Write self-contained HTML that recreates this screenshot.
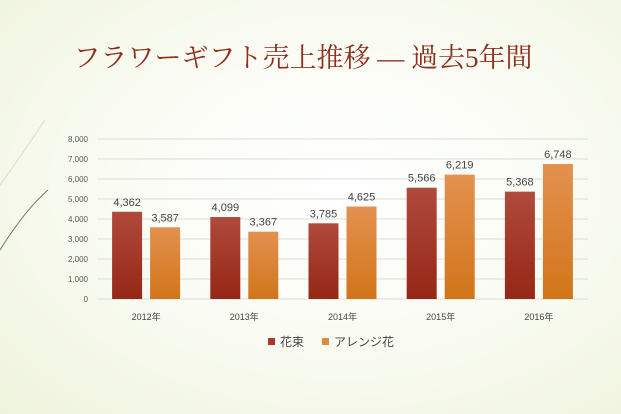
<!DOCTYPE html>
<html><head><meta charset="utf-8"><style>
body{margin:0;width:621px;height:414px;overflow:hidden;font-family:"Liberation Sans","Noto Sans CJK JP",sans-serif;}
#bg{position:absolute;left:0;top:0;width:621px;height:414px;background:radial-gradient(ellipse at 55% 45%,#ffffff 0%,#fafcf4 45%,#eef3dc 100%);}
</style></head><body>
<div id="bg"></div>
<svg width="621" height="414" style="position:absolute;left:0;top:0">
<defs>
<linearGradient id="g1" x1="0" y1="0" x2="0" y2="1"><stop offset="0" stop-color="#b04a3c"/><stop offset="1" stop-color="#952716"/></linearGradient>
<linearGradient id="g2" x1="0" y1="0" x2="0" y2="1"><stop offset="0" stop-color="#e39150"/><stop offset="1" stop-color="#d2751a"/></linearGradient>
</defs>
<path d="M0,185 Q25,150 45,120" stroke="#d9dcc6" stroke-width="1" fill="none"/>
<path d="M0,250 Q25,210 48,190" stroke="#7a7a6a" stroke-width="1" fill="none"/>
<text x="303" y="67" text-anchor="middle" font-family="'Liberation Serif','Noto Serif CJK SC',serif" font-size="27" fill="#8e2f1d">フラワーギフト売上推移 ― 過去5年間</text>
<g id="grid"></g><g id="bars"></g><g id="labels"></g>
<g>
<rect x="268" y="338" width="7" height="7" fill="#a63a2a"/>
<text x="280" y="346" font-size="12" fill="#444">花束</text>
<rect x="322" y="338" width="7" height="7" fill="#de8a3e"/>
<text x="334" y="346" font-size="12" fill="#444">アレンジ花</text>
</g>
</svg>
<script>
const categories=["2012年","2013年","2014年","2015年","2016年"];
const bouquet=[4362,4099,3785,5566,5368];
const arrangement=[3587,3367,4625,6219,6748];
const yTicks=[0,1000,2000,3000,4000,5000,6000,7000,8000];
const NS="http://www.w3.org/2000/svg";
const x0=97,x1=588,y0=299,yMax=8000,yTop=139;
const y=v=>y0-(v/yMax)*(y0-yTop);
const gw=(x1-x0)/categories.length;
const grid=document.getElementById('grid'),bars=document.getElementById('bars'),labels=document.getElementById('labels');
function mk(tag,attrs,parent,txt){const e=document.createElementNS(NS,tag);for(const k in attrs)e.setAttribute(k,attrs[k]);if(txt!==undefined)e.textContent=txt;parent.appendChild(e);return e;}
const fmt=v=>v.toLocaleString('en-US');
yTicks.forEach(t=>{
 const l=mk('line',{x1:x0,x2:x1,y1:y(t),y2:y(t),stroke:'#dcdcdc','stroke-width':1},grid);
 
 
 const tx=mk('text',{x:88,y:y(t)+3,'text-anchor':'end','font-size':8,fill:'#555'},grid,fmt(t));
 
 
});
categories.forEach((c,i)=>{
 const cx=x0+gw*(i+0.5);
 [[bouquet[i],'url(#g1)',cx-34,'bar-bouquet'],[arrangement[i],'url(#g2)',cx+4,'bar-arrangement']].forEach(([v,f,bx,n])=>{
  const r=mk('rect',{x:bx,y:y(v),width:30,height:y0-y(v),fill:f},bars);
  
  
  const t=mk('text',{x:bx+15,y:y(v)-6,'text-anchor':'middle','font-size':11,fill:'#444'},labels,fmt(v));
  
  
 });
 const t=mk('text',{x:cx,y:320,'text-anchor':'middle','font-size':9,fill:'#444'},labels,c);
 
 
});
</script>
</body></html>
